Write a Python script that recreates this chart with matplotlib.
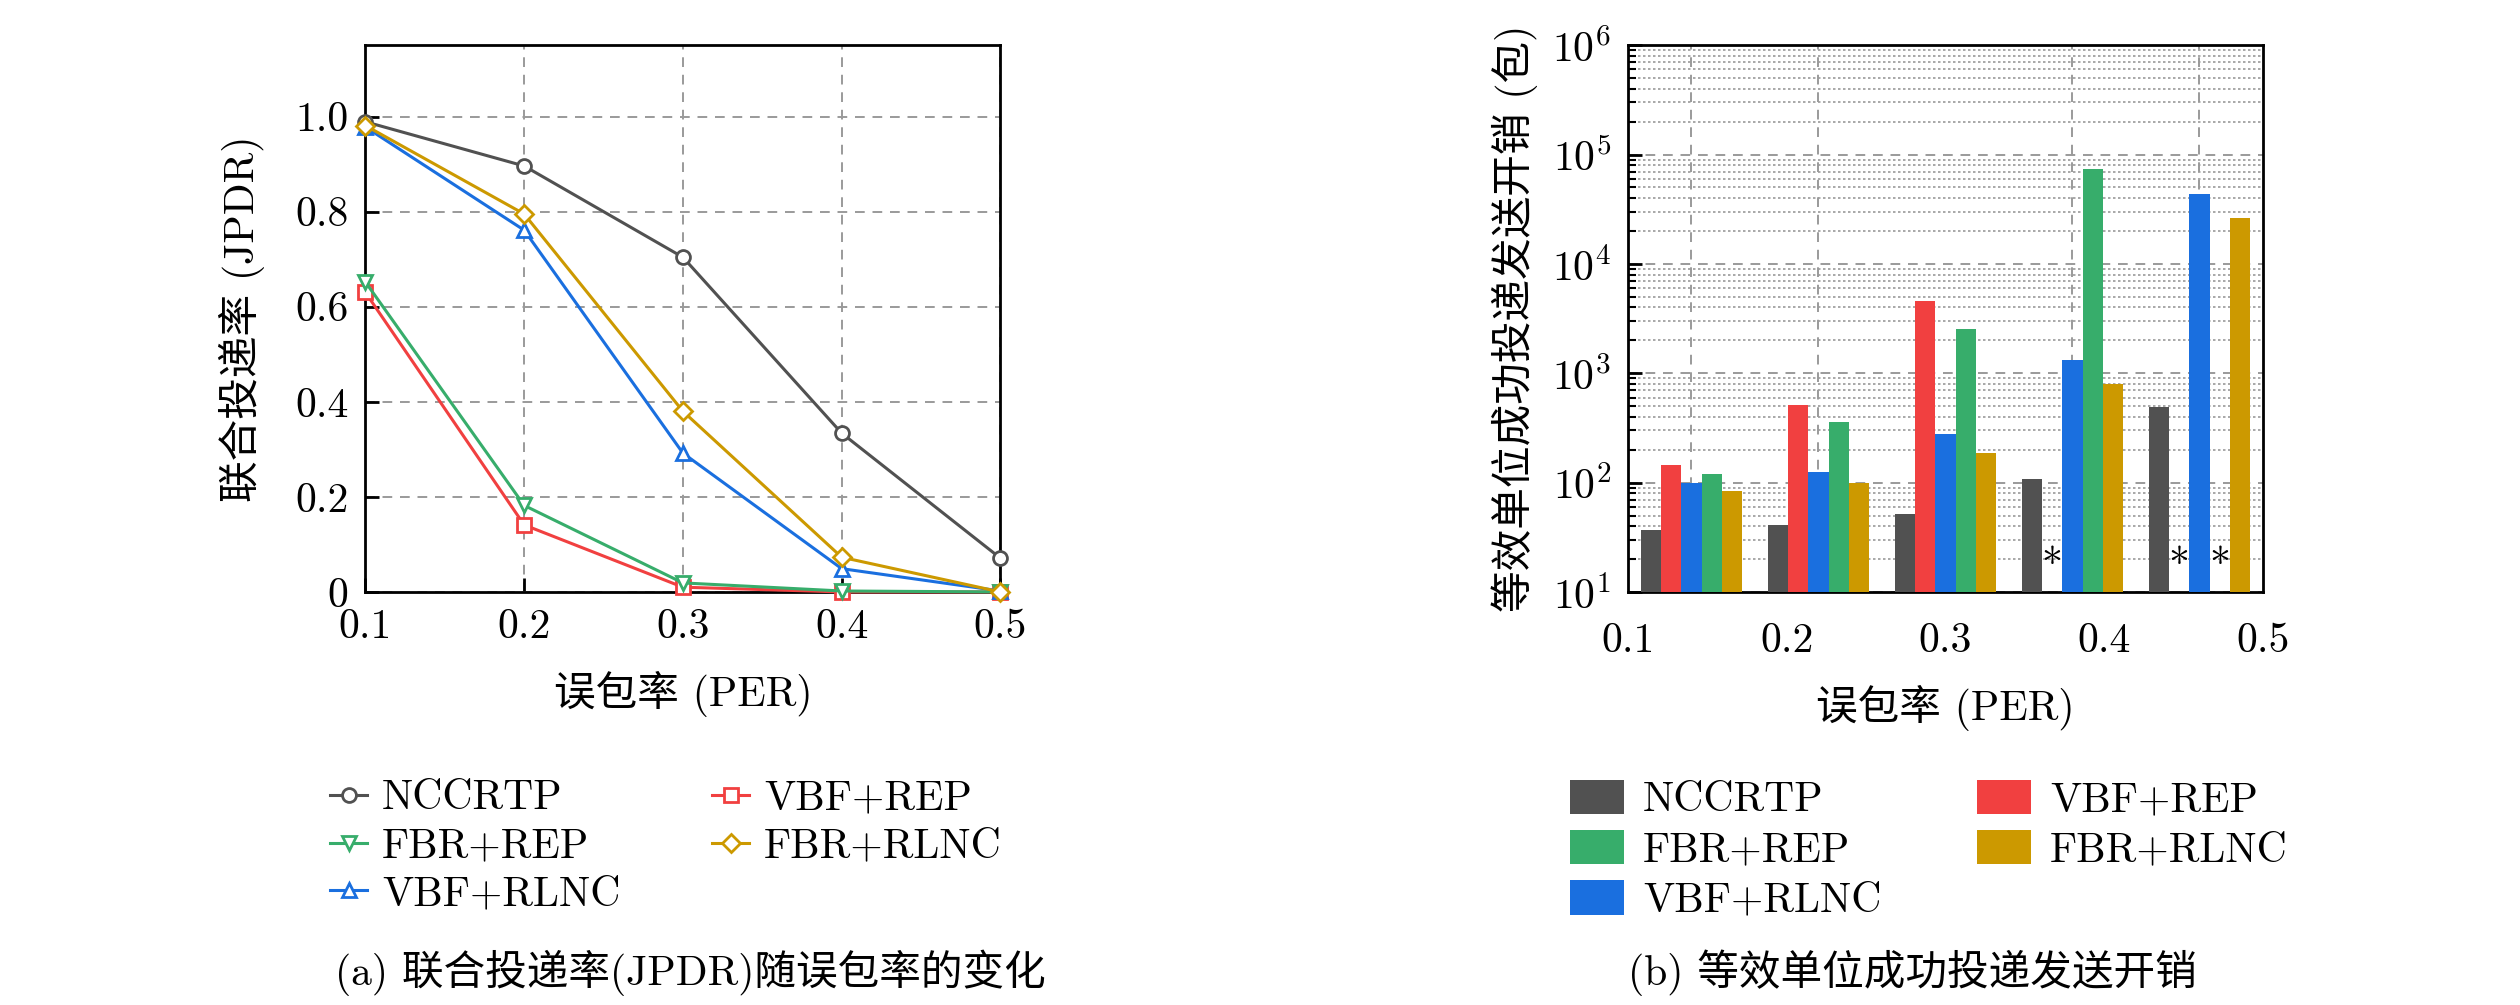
import matplotlib
matplotlib.use('Agg')
import matplotlib.pyplot as plt
import numpy as np
from matplotlib.patches import Patch

plt.rcParams['font.family'] = ['cmr10', 'Noto Sans CJK SC']
plt.rcParams['mathtext.fontset'] = 'cm'
plt.rcParams['axes.formatter.use_mathtext'] = True
plt.rcParams['axes.unicode_minus'] = False

# data
per = [0.1, 0.2, 0.3, 0.4, 0.5]
per_labels = ['0.1', '0.2', '0.3', '0.4', '0.5']
schemes = ['NCCRTP', 'VBF+REP', 'VBF+RLNC', 'FBR+REP', 'FBR+RLNC']
colors = ['#515151', '#F14040', '#1A6FDF', '#37AD6B', '#CC9900']
markers = ['o', 's', '^', 'v', 'D']

jpdr_nccrtp = [0.989, 0.896, 0.704, 0.334, 0.071]
jpdr_vbf_rep = [0.630, 0.141, 0.010, 0.000, 0.000]
jpdr_vbf_rlnc = [0.978, 0.761, 0.292, 0.049, 0.002]
jpdr_fbr_rep = [0.652, 0.182, 0.019, 0.002, 0.000]
jpdr_fbr_rlnc = [0.981, 0.795, 0.380, 0.073, 0.000]

# None = no bar (marked with *)
cost_nccrtp = [37, 41, 52, 109, 492]
cost_vbf_rep = [144, 516, 4610, None, None]
cost_vbf_rlnc = [100, 124, 279, 1310, 43600]
cost_fbr_rep = [119, 356, 2520, 73400, None]
cost_fbr_rlnc = [84, 100, 188, 800, 26400]

jpdr = [jpdr_nccrtp, jpdr_vbf_rep, jpdr_vbf_rlnc, jpdr_fbr_rep, jpdr_fbr_rlnc]
cost = [cost_nccrtp, cost_vbf_rep, cost_vbf_rlnc, cost_fbr_rep, cost_fbr_rlnc]

# legend order (2 columns, column-major)
leg_order = [0, 3, 2, 1, 4]

fs = 30
fig = plt.figure(figsize=(25.2, 10.05), dpi=100)
ax1 = fig.add_axes([0.145, 0.411, 0.252, 0.544])
ax2 = fig.add_axes([0.646, 0.411, 0.252, 0.544])

# ---- (a) line chart
for i in range(5):
    ax1.plot(per, jpdr[i], color=colors[i], marker=markers[i], lw=2.2,
             ms=10 if markers[i] != 'D' else 9, mfc='white', mew=2.0,
             label=schemes[i], zorder=3, clip_on=False)
ax1.set_xlim(0.1, 0.5)
ax1.set_ylim(0, 1.15)
ax1.set_xticks(per)
ax1.set_xticklabels(per_labels)
ax1.set_yticks([0, 0.2, 0.4, 0.6, 0.8, 1.0])
ax1.set_yticklabels(['0', '0.2', '0.4', '0.6', '0.8', '1.0'])
ax1.grid(True, ls=(0, (5, 4)), color='#9a9a9a', lw=1.4)
ax1.tick_params(direction='in', length=10, width=2, labelsize=fs, pad=12)
for s in ax1.spines.values():
    s.set_linewidth(2)
ax1.set_xlabel('误包率 (PER)', fontsize=fs, labelpad=18)
ax1.set_ylabel('联合投递率 (JPDR)', fontsize=fs, labelpad=22)

h1, l1 = ax1.get_legend_handles_labels()
ax1.legend([h1[k] for k in leg_order], [l1[k] for k in leg_order],
           loc='upper left', bbox_to_anchor=(-0.115, -0.275), ncol=2,
           frameon=False, fontsize=fs, handlelength=0.9, handletextpad=0.35,
           columnspacing=2.2, labelspacing=0.25)

# ---- (b) grouped bars, log scale
ngroup = len(per)
gw = 0.4 / ngroup
centers = [0.1 + gw * (g + 0.5) for g in range(ngroup)]
bw = gw * 0.8 / 5
for i in range(5):
    xs = [c + (i - 2) * bw for c in centers]
    vals = [v if v is not None else np.nan for v in cost[i]]
    ax2.bar(xs, vals, width=bw, color=colors[i], label=schemes[i], zorder=3)
    for x, v in zip(xs, cost[i]):
        if v is None:
            ax2.text(x, 11.5, '*', ha='center', va='bottom', fontsize=fs, zorder=4)
ax2.set_yscale('log')
ax2.set_ylim(10, 1e6)
ax2.set_xlim(0.1, 0.5)
ax2.set_xticks(per)
ax2.set_xticklabels(per_labels)
ax2.set_xticks(centers, minor=True)
ax2.set_axisbelow(True)
ax2.grid(True, which='major', axis='y', ls=(0, (5, 4)), color='#9a9a9a', lw=1.4)
ax2.grid(True, which='minor', axis='y', ls=(0, (1.5, 1.5)), color='#9a9a9a', lw=1.2)
ax2.grid(True, which='minor', axis='x', ls=(0, (5, 4)), color='#9a9a9a', lw=1.4)
ax2.tick_params(axis='x', which='both', length=0, labelsize=fs, pad=22)
ax2.tick_params(axis='y', which='major', direction='in', length=10, width=2, labelsize=fs, pad=12)
ax2.tick_params(axis='y', which='minor', direction='in', length=6, width=1.5)
for s in ax2.spines.values():
    s.set_linewidth(2)
ax2.set_xlabel('误包率 (PER)', fontsize=fs, labelpad=18)
ax2.set_ylabel('等效单位成功投递发送开销 (包)', fontsize=fs, labelpad=10)

patches = [Patch(facecolor=colors[i], label=schemes[i]) for i in range(5)]
ax2.legend([patches[k] for k in leg_order], [schemes[k] for k in leg_order],
           loc='upper left', bbox_to_anchor=(-0.15, -0.275), ncol=2,
           frameon=False, fontsize=fs, handlelength=1.3, handleheight=0.9,
           handletextpad=0.45, columnspacing=2.3, labelspacing=0.25)

fig.text(0.274, 1 - 973 / 1005, '(a) 联合投递率(JPDR)随误包率的变化', ha='center', va='center', fontsize=fs)
fig.text(0.759, 1 - 973 / 1005, '(b) 等效单位成功投递发送开销', ha='center', va='center', fontsize=fs)

fig.savefig('out.png', dpi=100)
